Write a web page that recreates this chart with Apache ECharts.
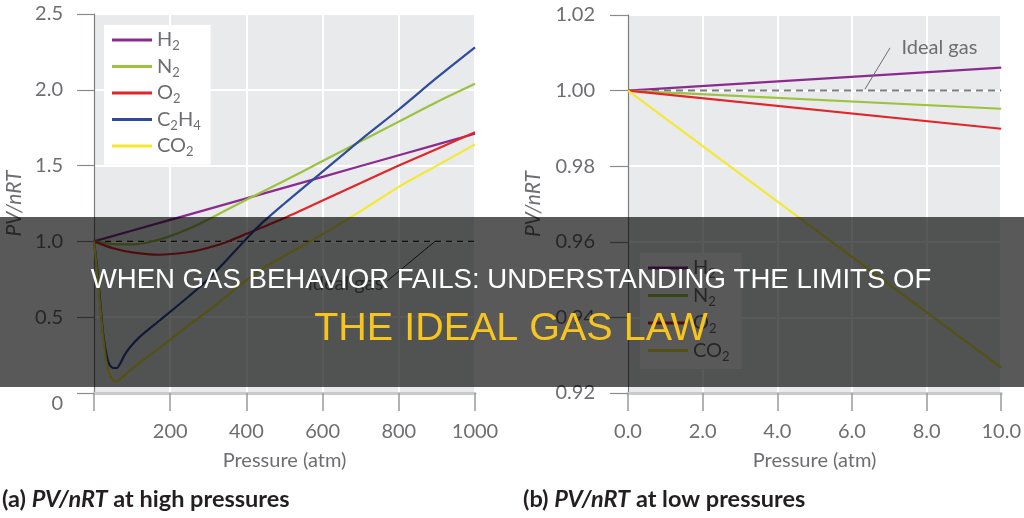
<!DOCTYPE html>
<html><head><meta charset="utf-8">
<script src="https://cdn.jsdelivr.net/npm/echarts@6/dist/echarts.min.js"></script>
<style>html,body{margin:0;padding:0;background:#fff}#c{width:1024px;height:518px}</style>
</head><body><div id="c"></div>
<script>
// ---------- data ----------
const gasNames = ['H2', 'N2', 'O2', 'C2H4', 'CO2'];
const lowGasNames = ['H2', 'N2', 'O2', 'CO2'];
// (a) high pressures: [pressure atm, PV/nRT]
const highH2 = [[0,1.0],[200,1.142],[400,1.284],[600,1.426],[800,1.568],[1000,1.71]];
const highN2 = [[0,1.0],[50,0.983],[100,0.98],[150,0.998],[200,1.035],[250,1.085],[300,1.145],[400,1.275],[500,1.40],[600,1.53],[700,1.66],[800,1.79],[900,1.92],[1000,2.04]];
const highO2 = [[0,1.0],[50,0.955],[100,0.928],[170,0.912],[250,0.93],[300,0.958],[350,0.998],[400,1.05],[500,1.155],[600,1.27],[700,1.385],[800,1.50],[900,1.61],[1000,1.72]];
const highC2H4 = [[0,1.0],[5,0.9],[10,0.78],[16,0.61],[24,0.39],[32,0.26],[40,0.19],[50,0.165],[60,0.165],[70,0.2],[80,0.25],[94,0.3],[120,0.37],[173,0.48],[250,0.64],[304,0.76],[428,1.09],[500,1.25],[600,1.46],[700,1.67],[800,1.87],[900,2.08],[1000,2.28]];
const highCO2 = [[0,1.0],[5,0.88],[10,0.75],[16,0.58],[24,0.37],[32,0.21],[40,0.13],[50,0.085],[60,0.075],[70,0.095],[86,0.13],[120,0.2],[173,0.3],[250,0.45],[304,0.55],[436,0.81],[568,1.0],[700,1.2],[800,1.36],[900,1.5],[1000,1.64]];
const idealHigh = [[0,1.0],[1000,1.0]];
// (b) low pressures
const lowH2 = [[0,1.0],[10,1.0061]];
const lowN2 = [[0,1.0],[10,0.9952]];
const lowO2 = [[0,1.0],[10,0.9899]];
const lowCO2 = [[0,1.0],[10,0.9267]];
const idealLow = [[0,1.0],[10,1.0]];
// tick labels / text
const yTicksHigh = [0, 2.5, 0.5];
const yTicksLow = [0.92, 1.02, 0.02];
const xTicksHigh = [0, 1000, 200];
const xTicksLow = [0, 10, 2];
const bannerLine1 = 'WHEN GAS BEHAVIOR FAILS: UNDERSTANDING THE LIMITS OF';
const bannerLine2 = 'THE IDEAL GAS LAW';

// ---------- style ----------
const colors = {H2:'#8b2a8f', N2:'#9cc23f', O2:'#e1262b', C2H4:'#2e4c9b', CO2:'#f3e934'};
const gray = '#6d6e71';
const FONT = 'Lato';
const legendRich = {
  t:{fontSize:20, color:gray, fontFamily:FONT},
  s:{fontSize:13, color:gray, fontFamily:FONT, padding:[12,0,0,0]}
};
const legendLabel = {H2:'{t|H}{s|2}', N2:'{t|N}{s|2}', O2:'{t|O}{s|2}', C2H4:'{t|C}{s|2}{t|H}{s|4}', CO2:'{t|CO}{s|2}'};

function lineSeries(name, data, xi, yi){
  return {name, type:'line', xAxisIndex:xi, yAxisIndex:yi, data, showSymbol:false, symbol:'none',
    smooth:0.25, color:colors[name], lineStyle:{width:2.2, color:colors[name]}, z:3};
}

const chart = echarts.init(document.getElementById('c'), null, {renderer:'canvas'});
const axisLabelBase = {color:gray, fontSize:20, fontFamily:FONT};
const capRich = {a:{fontSize:23.5, fontWeight:'bold', fontFamily:FONT, fill:'#231f20'},
                 i:{fontSize:23.5, fontWeight:'bold', fontStyle:'italic', fontFamily:FONT, fill:'#231f20'}};

const option = {
  animation:false,
  backgroundColor:'#fff',
  grid:[
    {left:94, right:549, top:14, bottom:125, show:true, backgroundColor:'#e9eaec', borderWidth:0},
    {left:628, right:17, top:15, bottom:125, show:true, backgroundColor:'#e9eaec', borderWidth:0}
  ],
  xAxis:[
    {type:'value', gridIndex:0, min:xTicksHigh[0], max:xTicksHigh[1], interval:xTicksHigh[2],
     name:'Pressure (atm)', nameLocation:'middle', nameGap:58,
     nameTextStyle:{color:gray, fontSize:20, fontFamily:FONT},
     axisLine:{show:true, onZero:false, lineStyle:{color:'#c9cacc', width:3}},
     axisTick:{show:true, length:18, lineStyle:{color:'#9a9b9d', width:1.5}},
     axisLabel:Object.assign({margin:29, formatter:v => v===0 ? '' : String(v)}, axisLabelBase),
     splitLine:{show:true, lineStyle:{color:'#fff', width:2}}},
    {type:'value', gridIndex:1, min:xTicksLow[0], max:xTicksLow[1], interval:xTicksLow[2],
     name:'Pressure (atm)', nameLocation:'middle', nameGap:58,
     nameTextStyle:{color:gray, fontSize:20, fontFamily:FONT},
     axisLine:{show:true, onZero:false, lineStyle:{color:'#c9cacc', width:3}},
     axisTick:{show:true, length:18, lineStyle:{color:'#9a9b9d', width:1.5}},
     axisLabel:Object.assign({margin:29, formatter:v => v.toFixed(1)}, axisLabelBase),
     splitLine:{show:true, lineStyle:{color:'#fff', width:2}}}
  ],
  yAxis:[
    {type:'value', gridIndex:0, min:yTicksHigh[0], max:yTicksHigh[1], interval:yTicksHigh[2],
     name:'PV/nRT', nameLocation:'middle', nameGap:69,
     nameTextStyle:{color:gray, fontSize:21, fontFamily:FONT, fontStyle:'italic'},
     axisLine:{show:true, onZero:false, lineStyle:{color:'#7b7c7e', width:1.2}},
     axisTick:{show:true, length:17, lineStyle:{color:'#8a8b8d', width:1.2}},
     axisLabel:Object.assign({margin:31, formatter:v => v===0 ? '{z|0}' : v.toFixed(1),
       rich:{z:{fontSize:20, color:gray, fontFamily:FONT, padding:[22,0,0,0]}}}, axisLabelBase),
     splitLine:{show:true, lineStyle:{color:'#fff', width:2}}},
    {type:'value', gridIndex:1, min:yTicksLow[0], max:yTicksLow[1], interval:yTicksLow[2],
     name:'PV/nRT', nameLocation:'middle', nameGap:84,
     nameTextStyle:{color:gray, fontSize:21, fontFamily:FONT, fontStyle:'italic'},
     axisLine:{show:true, onZero:false, lineStyle:{color:'#7b7c7e', width:1.2}},
     axisTick:{show:true, length:18, lineStyle:{color:'#8a8b8d', width:1.2}},
     axisLabel:Object.assign({margin:33, formatter:v => v.toFixed(2)}, axisLabelBase),
     splitLine:{show:true, lineStyle:{color:'#fff', width:2}}}
  ],
  legend:[
    {data:gasNames, orient:'vertical', left:104, top:25, backgroundColor:'#fff',
     padding:[5,10,6,8], itemGap:4, itemWidth:40, itemHeight:3, icon:'rect',
     formatter:n => legendLabel[n], textStyle:{rich:legendRich}, selectedMode:false},
    {data:lowGasNames, orient:'vertical', left:640, top:253, backgroundColor:'#fff',
     padding:[5,12,6,8], itemGap:5, itemWidth:40, itemHeight:3, icon:'rect',
     formatter:n => legendLabel[n], textStyle:{rich:legendRich}, selectedMode:false}
  ],
  series:[
    {name:'ideal-a', type:'line', xAxisIndex:0, yAxisIndex:0, data:idealHigh, symbol:'none',
     lineStyle:{color:'#2a2a2a', width:1.2, type:[6,5]}, z:2, silent:true,
     markLine:{silent:true, symbol:['none','none'], label:{show:false},
       lineStyle:{color:'#2a2a2a', width:1, type:'solid'},
       data:[[{coord:[895,1.0]},{coord:[770,0.74]}]]},
     markPoint:{silent:true, symbolSize:0,
       data:[{coord:[770,0.72], label:{show:true, position:'left', distance:4, formatter:'Ideal gas',
         color:gray, fontSize:20, fontFamily:FONT}}]}},
    lineSeries('H2', highH2, 0, 0),
    lineSeries('N2', highN2, 0, 0),
    lineSeries('O2', highO2, 0, 0),
    lineSeries('C2H4', highC2H4, 0, 0),
    lineSeries('CO2', highCO2, 0, 0),
    {name:'ideal-b', type:'line', xAxisIndex:1, yAxisIndex:1, data:idealLow, symbol:'none',
     lineStyle:{color:'#7d7e80', width:2, type:[7,5]}, z:2, silent:true,
     markLine:{silent:true, symbol:['none','none'], label:{show:false},
       lineStyle:{color:'#6d6e71', width:1, type:'solid'},
       data:[[{coord:[6.35,1.0004]},{coord:[7.02,1.0113]}]]},
     markPoint:{silent:true, symbolSize:0,
       data:[{coord:[7.3,1.0113], label:{show:true, position:'right', distance:1, formatter:'Ideal gas',
         color:gray, fontSize:20, fontFamily:FONT}}]}},
    lineSeries('H2', lowH2, 1, 1),
    lineSeries('N2', lowN2, 1, 1),
    lineSeries('O2', lowO2, 1, 1),
    lineSeries('CO2', lowCO2, 1, 1)
  ],
  graphic:[
    {type:'text', left:2, top:487, z:5,
     style:{text:'{a|(a) }{i|PV/nRT}{a| at high pressures}', rich:capRich}},
    {type:'text', left:523, top:487, z:5,
     style:{text:'{a|(b) }{i|PV/nRT}{a| at low pressures}', rich:capRich}},
    {type:'rect', z:100, shape:{x:0, y:217, width:1024, height:170}, style:{fill:'rgba(0,0,0,0.65)'}},
    {type:'text', z:101, x:511, y:280,
     style:{text:bannerLine1, fill:'#ffffff', fontSize:27.6, fontFamily:'Liberation Sans',
       align:'center', verticalAlign:'middle', textAlign:'center', textVerticalAlign:'middle'}},
    {type:'text', z:101, x:511, y:329,
     style:{text:bannerLine2, fill:'#f7c520', fontSize:39.5, fontFamily:'Liberation Sans',
       align:'center', verticalAlign:'middle', textAlign:'center', textVerticalAlign:'middle'}}
  ]
};
chart.setOption(option);
</script></body></html>
